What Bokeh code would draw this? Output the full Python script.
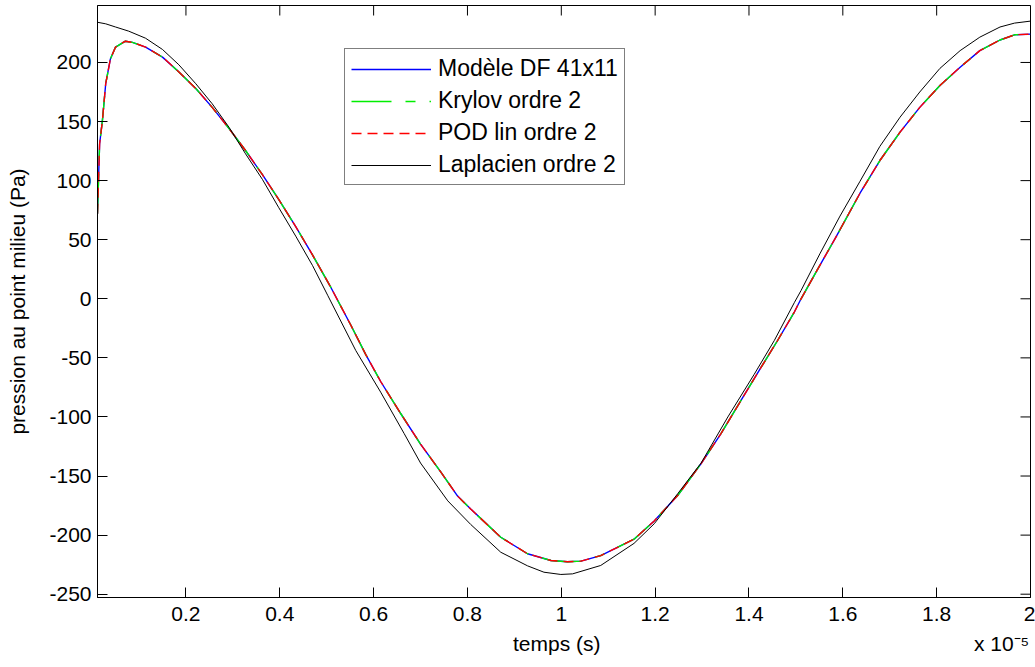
import math
from bokeh.plotting import figure
from bokeh.models import (Range1d, FixedTicker, Legend, LegendItem,
                          CustomJSTickFormatter)
from bokeh.embed import file_html
from bokeh.resources import INLINE

# ---- data (time in units of 1e-5 s, pressure in Pa) ----
t_df = [0.0115, 0.016, 0.022, 0.029, 0.039, 0.050, 0.071, 0.086, 0.114, 0.150,
        0.185, 0.221, 0.256, 0.292, 0.327, 0.363, 0.398, 0.434, 0.470, 0.507,
        0.551, 0.583, 0.615, 0.658, 0.700, 0.743, 0.779, 0.807, 0.871, 0.928,
        0.978, 1.013, 1.042, 1.084, 1.155, 1.198, 1.248, 1.298, 1.340, 1.383,
        1.426, 1.461, 1.497, 1.511, 1.545, 1.585, 1.636, 1.679, 1.722, 1.764,
        1.807, 1.850, 1.892, 1.935, 1.966, 2.0]
p_df = [72, 131, 151, 182, 203, 213, 218, 217, 213, 204.5,
        192, 178, 162, 144, 125.5, 105, 84, 61, 37, 11,
        -22, -47, -70, -97.3, -123, -146.5, -167, -178, -201.8, -215.8,
        -221.5, -222.5, -222, -217.3, -203.5, -188, -166.5, -139.5, -114.3, -86,
        -57.9, -35.3, -11, 0, 24, 52, 88.9, 117, 141, 162,
        180.5, 196, 210, 219, 223.4, 224]
p_krylov = list(p_df)
p_pod = list(p_df)

t_lap = [0.0115, 0.029, 0.050, 0.078, 0.114, 0.150, 0.185, 0.221, 0.256, 0.292,
         0.327, 0.363, 0.398, 0.434, 0.470, 0.502, 0.562, 0.615, 0.665, 0.700,
         0.758, 0.807, 0.871, 0.928, 0.963, 0.999, 1.024, 1.084, 1.155, 1.198,
         1.248, 1.298, 1.355, 1.411, 1.454, 1.497, 1.511, 1.551, 1.594, 1.636,
         1.679, 1.722, 1.764, 1.807, 1.850, 1.892, 1.935, 1.966, 2.0]
p_lap = [234, 232.7, 230, 226.5, 220.5, 211, 198, 182, 165, 145,
         122.7, 101, 77, 53, 28, 3, -43.8, -79, -114, -139,
         -171, -191, -214.5, -226, -231.4, -233.3, -232.8, -225.7, -207, -190.4,
         -165, -139, -100, -64, -35.3, -3, 7, 38, 70, 99,
         129, 153.7, 175, 195, 210, 221.4, 230, 233.3, 235]

x_ticks = [0.2, 0.4, 0.6, 0.8, 1.0, 1.2, 1.4, 1.6, 1.8, 2.0]
y_ticks = [-250, -200, -150, -100, -50, 0, 50, 100, 150, 200]

labels = ["Modèle DF 41x11", "Krylov ordre 2", "POD lin ordre 2", "Laplacien ordre 2"]
x_title = "temps (s)"
x_multiplier = "x 10\u207b\u2075"

FONT = "Liberation Sans"
FS = "21px"
X0, X1 = 0.0115, 2.0
Y0, Y1 = -252.8, 248.2

p = figure(width=1035, height=667, output_backend="svg", toolbar_location=None,
           x_range=Range1d(X0, X1), y_range=Range1d(Y0, Y1),
           min_border_left=97, min_border_right=5, min_border_top=5,
           min_border_bottom=70)
p.background_fill_color = "white"
p.border_fill_color = "white"
p.outline_line_color = "black"
p.outline_line_width = 1
p.outline_line_alpha = 1
p.xgrid.visible = False
p.ygrid.visible = False

xfmt = CustomJSTickFormatter(code="return tick.toFixed(1).replace(/\\.0$/, '');")
yfmt = CustomJSTickFormatter(code="return tick.toFixed(0);")

def style_axis(ax, ticker, fmt):
    ax.ticker = ticker
    ax.formatter = fmt
    ax.major_tick_in = 10
    ax.major_tick_out = 0
    ax.minor_tick_line_color = None
    ax.major_tick_line_color = "black"
    ax.axis_line_color = "black"
    ax.major_label_text_font = FONT
    ax.major_label_text_font_size = FS
    ax.major_label_text_color = "black"
    ax.axis_label_text_font = FONT
    ax.axis_label_text_font_size = FS
    ax.axis_label_text_font_style = "normal"
    ax.axis_label_text_color = "black"

NB = "\u00a0"
xa = p.xaxis[0]
style_axis(xa, FixedTicker(ticks=x_ticks), xfmt)
# the axis title sits at the centre; the MATLAB-style "x 10^-5" multiplier is
# carried in the same axis label and pushed to the right end with no-break spaces
xa.axis_label = NB * 71 + x_title + NB * 64 + x_multiplier
xa.major_label_standoff = 9
xa.axis_label_standoff = 8

ya = p.yaxis[0]
style_axis(ya, FixedTicker(ticks=y_ticks), yfmt)
ya.axis_label = "pression au point milieu (Pa)"
ya.major_label_standoff = 6
ya.axis_label_standoff = 17

# mirrored inward ticks on the top and right edges of the box (MATLAB "box on")
p.ray(x=x_ticks, y=[Y1] * len(x_ticks), length=10, length_units="screen",
      angle=-math.pi / 2, line_color="black", line_width=1)
p.ray(x=[X1] * len(y_ticks), y=y_ticks, length=10, length_units="screen",
      angle=math.pi, line_color="black", line_width=1)

r_df = p.line(t_df, p_df, line_color="#0000ff", line_width=1.4)
r_kr = p.line(t_df, p_krylov, line_color="#00ee00", line_width=1.4, line_dash="40 14 10 14")
r_pod = p.line(t_df, p_pod, line_color="#ff0000", line_width=1.4, line_dash="10 6")
r_lap = p.line(t_lap, p_lap, line_color="black", line_width=1)

legend = Legend(items=[LegendItem(label=labels[0], renderers=[r_df]),
                       LegendItem(label=labels[1], renderers=[r_kr]),
                       LegendItem(label=labels[2], renderers=[r_pod]),
                       LegendItem(label=labels[3], renderers=[r_lap])],
                location=(247, 412))
legend.label_text_font = FONT
legend.label_text_font_size = "23px"
legend.label_text_color = "black"
legend.glyph_width = 80
legend.glyph_height = 20
legend.label_height = 20
legend.label_standoff = 7
legend.spacing = 5
legend.padding = 6
legend.margin = 0
legend.border_line_color = "black"
legend.border_line_width = 1
legend.background_fill_color = "white"
legend.background_fill_alpha = 1
p.add_layout(legend, "center")

open("out.html", "w").write(file_html(p, INLINE))
